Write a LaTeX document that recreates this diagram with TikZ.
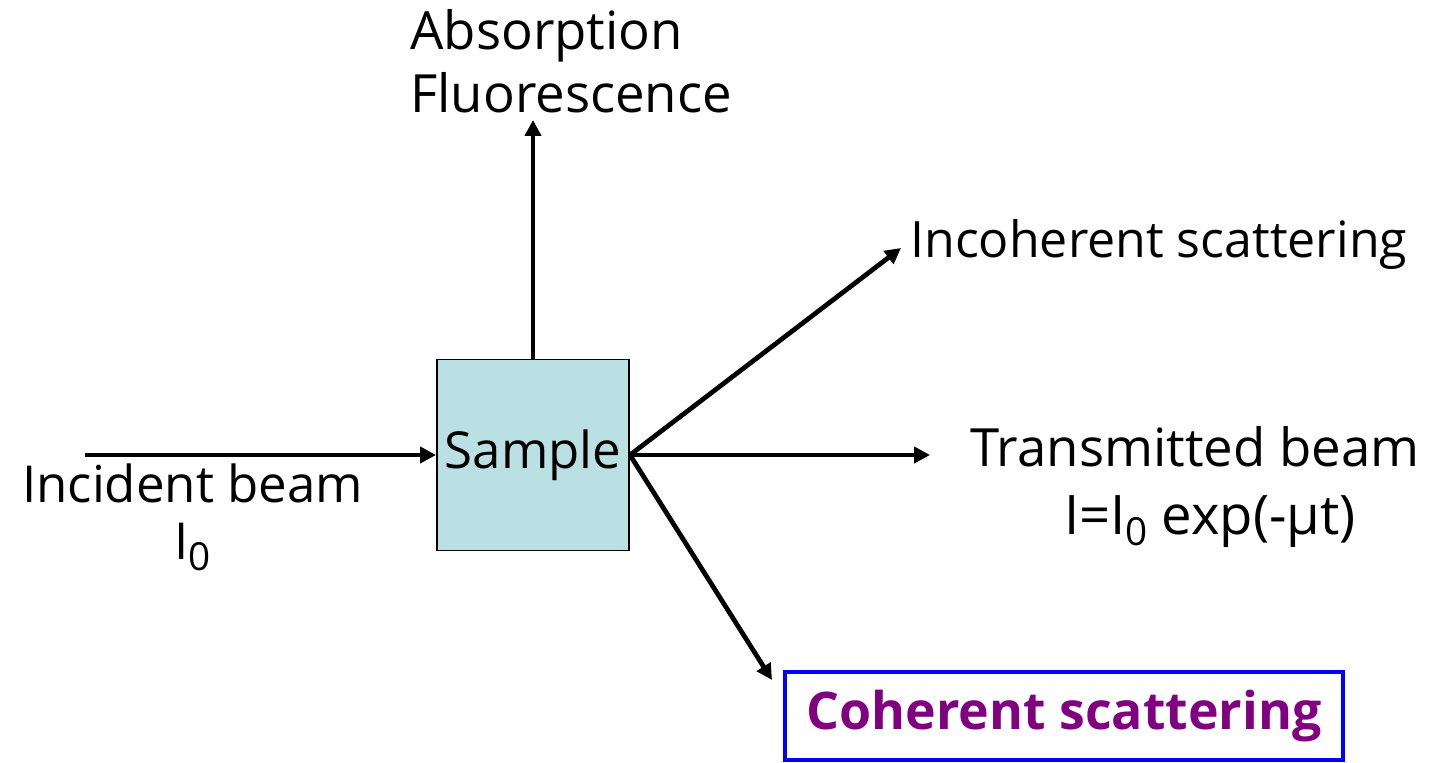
\documentclass[tikz,border=0pt]{standalone}
\usepackage{fontspec}
\setmainfont{Open Sans}
\usetikzlibrary{arrows.meta}
\definecolor{sampleblue}{RGB}{187,224,227}
\definecolor{cohpurple}{RGB}{128,0,128}
\tikzset{beamline/.style={line width=2.7pt,
    -{Triangle[length=9pt,width=9pt]}}}
\tikzset{labeltext/.style={inner sep=0pt,
    font=\fontsize{30}{36}\selectfont}}
\newcommand{\lowzero}{\raisebox{-0.4ex}{\fontsize{22}{22}\selectfont 0}}

\begin{document}
\begin{tikzpicture}
\useasboundingbox (0,0) rectangle (28.7,15.24);

\pgfmathsetmacro{\Y}{6.14}
\pgfmathsetmacro{\X}{10.66}

% 試料
\node[draw,line width=1.1pt,fill=sampleblue,
    minimum width=3.84cm,minimum height=3.82cm,
    inner sep=0pt,font=\fontsize{29}{34}\selectfont]
    (sample) at (\X,\Y) {Sample};

% 矢印の端点
\coordinate (incstart) at (1.7,\Y);
\coordinate (absend) at (\X,12.84);
\coordinate (incohend) at (18.02,10.28);
\coordinate (transend) at (18.6,\Y);
\coordinate (cohend) at (15.44,1.64);

% ラベル
\node[labeltext,anchor=base west,align=left,
    font=\fontsize{30}{36}\selectfont]
    (abslabel) at (8.2,12.98) {Absorption\\Fluorescence};
\node[labeltext,anchor=base,align=center,
    font=\fontsize{29}{33}\selectfont]
    (inclabel) at (3.85,4.04) {Incident beam\\I\lowzero};
\node[labeltext,anchor=base west,font=\fontsize{28.5}{34}\selectfont]
    (incohlabel) at (18.2,10.08) {Incoherent scattering};
\node[labeltext,anchor=base]
    (translabel) at (23.9,5.9) {Transmitted beam};
\node[labeltext,anchor=base,font=\fontsize{31}{36}\selectfont]
    (translaw) at (24.2,4.56) {I=I\lowzero{} exp(-μt)};
\node[draw=blue,line width=2.3pt,fill=white,
    minimum width=11.16cm,minimum height=1.76cm,
    text=cohpurple,font=\fontsize{29.5}{36}\selectfont\bfseries]
    (cohlabel) at (21.28,0.92) {Coherent scattering};

% ビーム
\draw[beamline] (incstart) -- (sample.west);
\draw[beamline] (sample.north) -- (absend);
\draw[beamline] (sample.east) -- (incohend);
\draw[beamline] (sample.east) -- (transend);
\draw[beamline] (sample.east) -- (cohend);

\end{tikzpicture}
\end{document}
